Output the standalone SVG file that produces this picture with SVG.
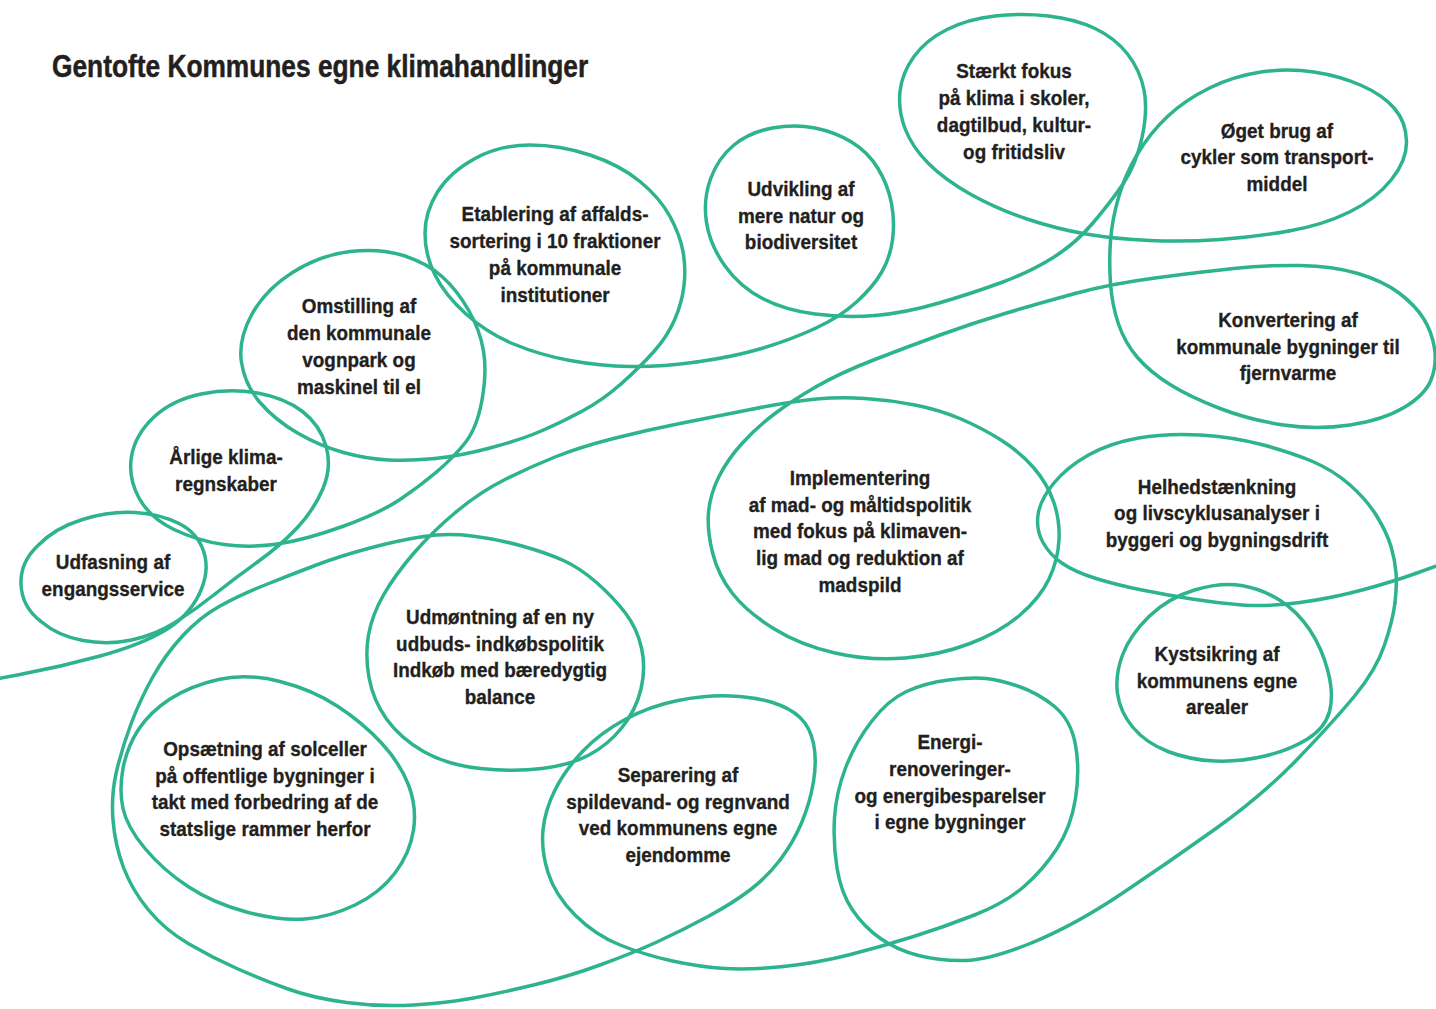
<svg xmlns="http://www.w3.org/2000/svg" width="1436" height="1009" viewBox="0 0 1436 1009">
<style>
.ln{fill:none;stroke:#2db38d;stroke-width:3.5;stroke-linecap:round;stroke-linejoin:round}
.t{font-family:"Liberation Sans",Arial,sans-serif;font-weight:700;font-size:21px;fill:#231f20;stroke:#231f20;stroke-width:0.35;text-anchor:middle}
.title{font-family:"Liberation Sans",Arial,sans-serif;font-weight:700;font-size:32px;fill:#231f20;stroke:#231f20;stroke-width:0.5}
</style>
<rect width="1436" height="1009" fill="#ffffff"/>
<text class="title" transform="matrix(0.822 0 0 1 52 77)" x="0" y="0">Gentofte Kommunes egne klimahandlinger</text>

<g id="connectors" class="ln">
<path d="M-20 682 L20 674.5 Q60 667 100 656 Q140 645 164 631 Q188 617 199 594.5"/>
<path d="M215 594 Q235 578 257.5 562"/>
<path d="M277.5 544 Q305 540 342.5 526.5 Q380 513 400 499.5 Q420 486 436.5 472"/>
<path d="M435 458.5 Q460 456 490 448 Q520 440 540 431.5 Q560 423 581.5 411.5 Q603 400 621.5 383.5"/>
<path d="M696.5 362 Q733 357 761.5 348.5 Q790 340 815 328.5"/>
<path d="M875 315.5 Q905 313 939 303 Q973 293 1001.5 282.5 Q1030 272 1052.5 258 Q1075 244 1092.5 223.5"/>
<path d="M1150 240.5 Q1185 242 1220 239.5 Q1255 237 1289 231"/>
<path d="M1110.5 241 Q1109 262 1110.5 283.5"/>
<path d="M1075 293.5 Q1040 303 1006.5 313 Q973 323 940 335 Q907 347 873.5 360 Q840 373 816.5 386.5"/>
<path d="M753 409 Q713 417 680 423.5 Q647 430 613.5 438.5 Q580 447 555 457 Q530 467 505 479.5 Q480 492 456 512"/>
<path d="M423.5 536.5 Q400 540 370 548 Q340 556 315 565.5 Q290 575 265 585 Q240 595 220 606 Q200 617 182.5 636 Q165 655 152.5 677.5 Q140 700 131 724 Q122 748 116.5 771.5 Q111 795 113 820 Q115 845 123.5 867.5 Q132 890 148.5 910 Q165 930 189 944 Q213 958 238 969 Q263 980 288 989 Q313 998 346.5 1002.5 Q380 1007 413.5 1005 Q447 1003 473.5 998 Q500 993 533.5 985 Q567 977 600 965 Q633 953 658 941.5 Q683 930 708 916.5 Q733 903 750 890 Q767 877 780 860"/>
<path d="M783.5 966.5 Q817 963 848.5 955 Q880 947 912 937 Q944 927 974.5 915"/>
<path d="M1032.5 942.5 Q1075 925 1122 893.5 Q1169 862 1216 828.5 Q1263 795 1298.5 758 Q1334 721 1355 695.5 Q1376 670 1384.5 645 Q1393 620 1395 602.5"/>
<path d="M1415.5 573.5 Q1436 566 1453 560 L1470 554"/>
</g>

<g id="udfasning">
<path class="ln" d="M199 594.5 Q210 572 204 552.5 Q198 533 179 523.5 Q160 514 135 512.5 Q110 511 82.5 519.5 Q55 528 38.5 545 Q20 562 21 584.5 Q22 607 41 621.5 Q58 636 83 640.5 Q108 645 131.5 640 Q155 635 175 622.5 Q195 610 215 594"/>
<text class="t" transform="matrix(0.9 0 0 1 113 0)"><tspan x="0" y="569">Udfasning af</tspan><tspan x="0" y="596">engangsservice</tspan></text>
</g>

<g id="aarlige">
<path class="ln" d="M257.5 562 Q280 546 297 528 Q314 510 323 488.5 Q332 467 326 446 Q320 425 302.5 411.5 Q285 398 257.5 393 Q230 388 201 394 Q172 400 153.5 417.5 Q135 435 131.5 456.5 Q128 478 139 498 Q150 518 174 529.5 Q198 541 224 544.5 Q250 548 277.5 544"/>
<text class="t" transform="matrix(0.9 0 0 1 226 0)"><tspan x="0" y="464">Årlige klima-</tspan><tspan x="0" y="491">regnskaber</tspan></text>
</g>

<g id="omstilling">
<path class="ln" d="M436.5 472 Q453 458 465 443 Q477 428 482 400 Q487 372 483.5 351 Q480 330 468.5 310 Q457 290 442 276.5 Q427 263 403.5 255.5 Q380 248 350 251.5 Q320 255 292.5 272.5 Q265 290 251.5 315 Q238 340 241.5 362.5 Q245 385 260 402.5 Q275 420 297.5 433 Q320 446 343.5 452.5 Q367 459 388.5 460 Q410 461 435 458.5"/>
<text class="t" transform="matrix(0.9 0 0 1 359 0)"><tspan x="0" y="313">Omstilling af</tspan><tspan x="0" y="340">den kommunale</tspan><tspan x="0" y="367">vognpark og</tspan><tspan x="0" y="394">maskinel til el</tspan></text>
</g>

<g id="etablering">
<path class="ln" d="M621.5 383.5 Q640 367 653.5 352 Q667 337 674.5 320 Q682 303 684 285.5 Q686 268 683 251.5 Q680 235 670 216.5 Q660 198 640 181.5 Q620 165 590 155 Q560 145 530 145 Q500 145 475 158.5 Q450 172 437.5 192 Q425 212 425 233.5 Q425 255 435 275 Q445 295 466 314 Q487 333 513.5 344 Q540 355 570 360.5 Q600 366 630 366.5 Q660 367 696.5 362"/>
<text class="t" transform="matrix(0.9 0 0 1 555 0)"><tspan x="0" y="221">Etablering af affalds-</tspan><tspan x="0" y="248">sortering i 10 fraktioner</tspan><tspan x="0" y="275">på kommunale</tspan><tspan x="0" y="302">institutioner</tspan></text>
</g>

<g id="udvikling">
<path class="ln" d="M815 328.5 Q840 317 856.5 302 Q873 287 881.5 272.5 Q890 258 892.5 240 Q895 222 891.5 203.5 Q888 185 878 168.5 Q868 152 851.5 142 Q835 132 815 128 Q795 124 772.5 128 Q750 132 734 145 Q718 158 710.5 179 Q703 200 706.5 222.5 Q710 245 725 266 Q740 287 762.5 298.5 Q785 310 815 314 Q845 318 875 315.5"/>
<text class="t" transform="matrix(0.9 0 0 1 801 0)"><tspan x="0" y="196">Udvikling af</tspan><tspan x="0" y="223">mere natur og</tspan><tspan x="0" y="249">biodiversitet</tspan></text>
</g>

<g id="staerkt">
<path class="ln" d="M1092.5 223.5 Q1110 203 1123 184 Q1136 165 1142 137.5 Q1148 110 1144 90 Q1140 70 1127.5 54 Q1115 38 1095 28.5 Q1075 19 1048.5 16 Q1022 13 995 16 Q968 19 947 29.5 Q926 40 914 56.5 Q902 73 900 91.5 Q898 110 905 128.5 Q912 147 928.5 163.5 Q945 180 971 194.5 Q997 209 1027 219 Q1057 229 1086 234 Q1115 239 1150 240.5"/>
<text class="t" transform="matrix(0.9 0 0 1 1014 0)"><tspan x="0" y="78">Stærkt fokus</tspan><tspan x="0" y="105">på klima i skoler,</tspan><tspan x="0" y="132">dagtilbud, kultur-</tspan><tspan x="0" y="159">og fritidsliv</tspan></text>
</g>

<g id="oeget">
<path class="ln" d="M1289 231 Q1323 225 1349.5 212 Q1376 199 1391.5 179.5 Q1407 160 1406.5 141 Q1406 122 1394.5 108.5 Q1383 95 1361.5 85.5 Q1340 76 1314 72 Q1288 68 1261 72 Q1234 76 1209.5 88 Q1185 100 1167.5 116.5 Q1150 133 1137.5 154 Q1125 175 1118.5 197.5 Q1112 220 1110.5 241"/>
<text class="t" transform="matrix(0.9 0 0 1 1277 0)"><tspan x="0" y="138">Øget brug af</tspan><tspan x="0" y="164">cykler som transport-</tspan><tspan x="0" y="191">middel</tspan></text>
</g>

<g id="konvertering">
<path class="ln" d="M1110.5 283.5 Q1112 305 1118.5 324 Q1125 343 1137.5 357.5 Q1150 372 1170 384.5 Q1190 397 1220 408.5 Q1250 420 1283.5 425 Q1317 430 1350 425 Q1383 420 1404 407.5 Q1425 395 1431 380 Q1437 365 1434.5 348.5 Q1432 332 1423.5 318.5 Q1415 305 1399 293 Q1383 281 1358 273.5 Q1333 266 1300 265.5 Q1267 265 1233.5 268.5 Q1200 272 1155 278 Q1110 284 1075 293.5"/>
<text class="t" transform="matrix(0.9 0 0 1 1288 0)"><tspan x="0" y="327">Konvertering af</tspan><tspan x="0" y="354">kommunale bygninger til</tspan><tspan x="0" y="380">fjernvarme</tspan></text>
</g>

<g id="implementering">
<path class="ln" d="M816.5 386.5 Q793 400 775 413.5 Q757 427 742 443.5 Q727 460 718.5 477.5 Q710 495 708.5 512.5 Q707 530 712.5 552.5 Q718 575 732.5 593.5 Q747 612 773.5 628.5 Q800 645 835 653 Q870 661 905 658 Q940 655 970 643.5 Q1000 632 1020 615 Q1040 598 1049 579 Q1058 560 1059 540 Q1060 520 1053.5 501.5 Q1047 483 1033.5 467.5 Q1020 452 1001 440 Q982 428 961 419 Q940 410 915 405 Q890 400 865 398.5 Q840 397 816.5 399 Q793 401 753 409"/>
<text class="t" transform="matrix(0.9 0 0 1 860 0)"><tspan x="0" y="485">Implementering</tspan><tspan x="0" y="512">af mad- og måltidspolitik</tspan><tspan x="0" y="538">med fokus på klimaven-</tspan><tspan x="0" y="565">lig mad og reduktion af</tspan><tspan x="0" y="592">madspild</tspan></text>
</g>

<g id="helhedstaenkning">
<path class="ln" d="M1395 602.5 Q1397 585 1396 572.5 Q1395 560 1391 546.5 Q1387 533 1377 516.5 Q1367 500 1350 485 Q1333 470 1311.5 461 Q1290 452 1261.5 444.5 Q1233 437 1200 435 Q1167 433 1138.5 438 Q1110 443 1088.5 455 Q1067 467 1053.5 483.5 Q1040 500 1038 515 Q1036 530 1043 542.5 Q1050 555 1062.5 563.5 Q1075 572 1096 578.5 Q1117 585 1142 590 Q1167 595 1192 599 Q1217 603 1242 605 Q1267 607 1300 602.5 Q1333 598 1364 589.5 Q1395 581 1415.5 573.5"/>
<text class="t" transform="matrix(0.9 0 0 1 1217 0)"><tspan x="0" y="494">Helhedstænkning</tspan><tspan x="0" y="520">og livscyklusanalyser i</tspan><tspan x="0" y="547">byggeri og bygningsdrift</tspan></text>
</g>

<g id="kystsikring">
<path class="ln" d="M1194.5 590 Q1221 582 1241.5 585.5 Q1262 589 1279.5 600 Q1297 611 1309.5 629.5 Q1322 648 1328 671.5 Q1334 695 1329.5 711.5 Q1325 728 1307.5 739 Q1290 750 1265 756 Q1240 762 1215 761 Q1190 760 1168 751.5 Q1146 743 1133 727.5 Q1120 712 1117.5 693.5 Q1115 675 1122.5 655 Q1130 635 1149 616.5 Q1168 598 1194.5 590 Z"/>
<text class="t" transform="matrix(0.9 0 0 1 1217 0)"><tspan x="0" y="661">Kystsikring af</tspan><tspan x="0" y="688">kommunens egne</tspan><tspan x="0" y="714">arealer</tspan></text>
</g>

<g id="energi">
<path class="ln" d="M974.5 915 Q1005 903 1024 886.5 Q1043 870 1057 848.5 Q1071 827 1075.5 798.5 Q1080 770 1075.5 745 Q1071 720 1054.5 706.5 Q1038 693 1019 686.5 Q1000 680 986 678.5 Q972 677 948.5 680 Q925 683 906.5 691.5 Q888 700 871.5 721.5 Q855 743 845.5 768 Q836 793 834.5 818 Q833 843 837 868 Q841 893 852.5 910 Q864 927 880.5 938.5 Q897 950 918.5 955.5 Q940 961 965 960.5 Q990 960 1032.5 942.5"/>
<text class="t" transform="matrix(0.9 0 0 1 950 0)"><tspan x="0" y="749">Energi-</tspan><tspan x="0" y="776">renoveringer-</tspan><tspan x="0" y="803">og energibesparelser</tspan><tspan x="0" y="829">i egne bygninger</tspan></text>
</g>

<g id="separering">
<path class="ln" d="M780 860 Q793 843 801.5 823 Q810 803 813.5 781.5 Q817 760 813.5 743.5 Q810 727 800 717.5 Q790 708 772.5 702.5 Q755 697 730.5 696 Q706 695 678 700.5 Q650 706 625 719.5 Q600 733 582.5 751.5 Q565 770 555 790 Q545 810 543 830 Q541 850 548 872.5 Q555 895 575 915 Q595 935 620 945 Q645 955 672.5 961 Q700 967 725 968.5 Q750 970 783.5 966.5"/>
<text class="t" transform="matrix(0.9 0 0 1 678 0)"><tspan x="0" y="782">Separering af</tspan><tspan x="0" y="809">spildevand- og regnvand</tspan><tspan x="0" y="835">ved kommunens egne</tspan><tspan x="0" y="862">ejendomme</tspan></text>
</g>

<g id="udmoentning">
<path class="ln" d="M456 512 Q432 532 413.5 553.5 Q395 575 383.5 595 Q372 615 368.5 635 Q365 655 369 677.5 Q373 700 386.5 719 Q400 738 423.5 751.5 Q447 765 480.5 768.5 Q514 772 542 768.5 Q570 765 589 755 Q608 745 622 727.5 Q636 710 641 689 Q646 668 641.5 648 Q637 628 625 612.5 Q613 597 596.5 582.5 Q580 568 563.5 560.5 Q547 553 522 546 Q497 539 472 536 Q447 533 423.5 536.5"/>
<text class="t" transform="matrix(0.9 0 0 1 500 0)"><tspan x="0" y="624">Udmøntning af en ny</tspan><tspan x="0" y="651">udbuds- indkøbspolitik</tspan><tspan x="0" y="677">Indkøb med bæredygtig</tspan><tspan x="0" y="704">balance</tspan></text>
</g>

<g id="opsaetning">
<path class="ln" d="M218.5 679.5 Q247 673 280 681.5 Q313 690 338 706.5 Q363 723 381.5 743 Q400 763 408.5 785 Q417 807 413.5 830 Q410 853 395 873 Q380 893 355 905 Q330 917 305 919 Q280 921 246.5 912 Q213 903 188 886.5 Q163 870 145 848.5 Q127 827 123 808.5 Q119 790 123 768.5 Q127 747 138.5 729.5 Q150 712 170 699 Q190 686 218.5 679.5 Z"/>
<text class="t" transform="matrix(0.9 0 0 1 265 0)"><tspan x="0" y="756">Opsætning af solceller</tspan><tspan x="0" y="783">på offentlige bygninger i</tspan><tspan x="0" y="809">takt med forbedring af de</tspan><tspan x="0" y="836">statslige rammer herfor</tspan></text>
</g>
</svg>
